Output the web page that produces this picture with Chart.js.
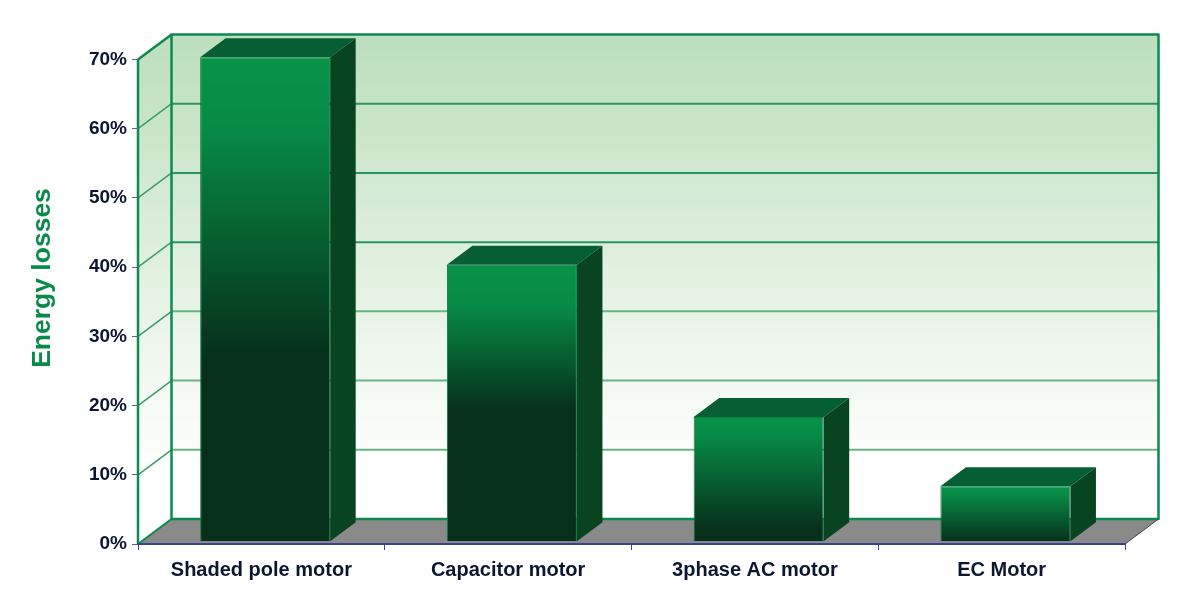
<!DOCTYPE html>
<html>
<head>
<meta charset="utf-8">
<title>Energy losses</title>
<script src="https://cdn.jsdelivr.net/npm/chart.js@4"></script>
<style>
  html, body { margin: 0; padding: 0; background: #fff; }
  canvas { display: block; }
</style>
</head>
<body>
<canvas id="lossChart" width="1197" height="600"></canvas>
<script>
const motorTypes = ['Shaded pole motor', 'Capacitor motor', '3phase AC motor', 'EC Motor'];
const energyLosses = [70, 40, 18, 8];
const yAxisTitle = 'Energy losses';

// how far down each bar the green fades to its darkest
const fadeStops = [0.62, 0.52, 0.9, 1];

const WALL_DX = 33.5;
const WALL_DY = 25;
const BAR_DX = 25.5;
const BAR_DY = 19;
const BAR_SHIFT_X = 3.8;
const BAR_SHIFT_Y = -2.3;
const GREEN_LINE = '#0b8a52';
const AXIS_BLUE = '#3c3f9c';
const FONT_FAMILY = '"Liberation Sans", Arial, sans-serif';

function poly(ctx, pts, fill) {
  ctx.beginPath();
  pts.forEach((p, i) => i ? ctx.lineTo(p[0], p[1]) : ctx.moveTo(p[0], p[1]));
  ctx.closePath();
  ctx.fillStyle = fill;
  ctx.fill();
}

function line(ctx, x1, y1, x2, y2, color, width) {
  ctx.beginPath();
  ctx.moveTo(x1, y1);
  ctx.lineTo(x2, y2);
  ctx.strokeStyle = color;
  ctx.lineWidth = width;
  ctx.stroke();
}

const wallsPlugin = {
  id: 'walls',
  beforeDraw(chart) {
    const ctx = chart.ctx;
    const { left, right, top, bottom } = chart.chartArea;
    const yScale = chart.scales.y;
    const backL = left + WALL_DX, backR = right + WALL_DX;
    const backT = top - WALL_DY, backB = bottom - WALL_DY;

    ctx.save();
    const grad = ctx.createLinearGradient(0, backT, 0, backB - 50);
    grad.addColorStop(0, '#bddfbe');
    grad.addColorStop(0.2, '#c8e4c8');
    grad.addColorStop(0.6, '#e6f3e4');
    grad.addColorStop(1, '#ffffff');
    ctx.fillStyle = grad;
    ctx.fillRect(backL, backT, backR - backL, backB - backT);
    poly(ctx, [[left, top], [backL, backT], [backL, backB], [left, bottom]], grad);

    poly(ctx, [[left, bottom], [backL, backB], [backR, backB], [right, bottom]], '#8a8a8a');

    // grid lines, back wall plus the slanted bit on the side wall
    yScale.ticks.forEach(t => {
      if (t.value === 0 || t.value === yScale.max) return;
      const y = yScale.getPixelForValue(t.value);
      const c = t.value > 30 ? '#2b9460' : '#66b585';
      line(ctx, backL, y - WALL_DY, backR, y - WALL_DY, c, 2);
      line(ctx, left, y, backL, y - WALL_DY, '#3d9c6a', 1.5);
    });

    ctx.lineJoin = 'round';
    ctx.beginPath();
    ctx.rect(backL, backT, backR - backL, backB - backT);
    ctx.strokeStyle = GREEN_LINE;
    ctx.lineWidth = 2.5;
    ctx.stroke();
    line(ctx, left, bottom, left, top, GREEN_LINE, 2.5);
    line(ctx, left, top, backL, backT, GREEN_LINE, 2.5);
    line(ctx, left, bottom, backL, backB, GREEN_LINE, 2);
    line(ctx, right, bottom, backR, backB, '#444444', 1);
    ctx.restore();
  },
  beforeDatasetDraw(chart) {
    const ctx = chart.ctx;
    ctx.save();
    ctx.translate(BAR_SHIFT_X, BAR_SHIFT_Y);
    chart.getDatasetMeta(0).data.forEach(bar => {
      const l = bar.x - bar.width / 2, r = bar.x + bar.width / 2;
      poly(ctx, [[l, bar.y], [l + BAR_DX, bar.y - BAR_DY], [r + BAR_DX, bar.y - BAR_DY], [r, bar.y]], '#065f33');
      poly(ctx, [[r, bar.y], [r + BAR_DX, bar.y - BAR_DY], [r + BAR_DX, bar.base - BAR_DY], [r, bar.base]], '#07441f');
    });
  },
  afterDatasetDraw(chart) {
    chart.ctx.restore();
  },
  afterDraw(chart) {
    // axis title sits higher than the centre of the scale, so it is placed by hand
    const ctx = chart.ctx;
    ctx.save();
    ctx.translate(43, 278);
    ctx.rotate(-Math.PI / 2);
    ctx.font = 'bold 26.5px ' + FONT_FAMILY;
    ctx.fillStyle = '#0a8a4a';
    ctx.textAlign = 'center';
    ctx.textBaseline = 'middle';
    ctx.fillText(yAxisTitle, 0, 0);
    ctx.restore();
  }
};

function barGradient(context) {
  const chart = context.chart;
  const yScale = chart.scales.y;
  if (!yScale || !chart.chartArea || context.dataIndex === undefined) return '#07603a';
  const topY = yScale.getPixelForValue(energyLosses[context.dataIndex]);
  const g = chart.ctx.createLinearGradient(0, topY, 0, yScale.getPixelForValue(0));
  g.addColorStop(0, '#089349');
  g.addColorStop(0.15, '#078a45');
  g.addColorStop(fadeStops[context.dataIndex], '#06301a');
  g.addColorStop(1, '#06301a');
  return g;
}

new Chart(document.getElementById('lossChart').getContext('2d'), {
  type: 'bar',
  plugins: [wallsPlugin],
  data: {
    labels: motorTypes,
    datasets: [{
      data: energyLosses,
      backgroundColor: barGradient,
      borderColor: '#0a7a45',
      borderWidth: 1,
      barPercentage: 0.527,
      categoryPercentage: 1
    }]
  },
  options: {
    responsive: false,
    animation: false,
    layout: { padding: { top: 59.5, right: 72, bottom: 0, left: 0 } },
    plugins: { legend: { display: false }, tooltip: { enabled: false } },
    scales: {
      x: {
        afterFit(scale) { scale.height = 56; },
        grid: { drawOnChartArea: false, tickLength: 6, color: AXIS_BLUE, lineWidth: 1 },
        border: { color: AXIS_BLUE, width: 2 },
        ticks: {
          autoSkip: false,
          maxRotation: 0,
          padding: 8,
          color: '#0b1630',
          font: { family: FONT_FAMILY, size: 20, weight: 'bold' }
        }
      },
      y: {
        min: 0,
        max: 70,
        afterFit(scale) { scale.width = 138; },
        grid: { drawOnChartArea: false, tickLength: 6, color: '#5a5f9c', lineWidth: 1 },
        border: { display: false },
        ticks: {
          stepSize: 10,
          padding: 5,
          color: '#0b1630',
          font: { family: FONT_FAMILY, size: 19, weight: 'bold' },
          callback: v => v + '%'
        }
      }
    }
  }
});
</script>
</body>
</html>
